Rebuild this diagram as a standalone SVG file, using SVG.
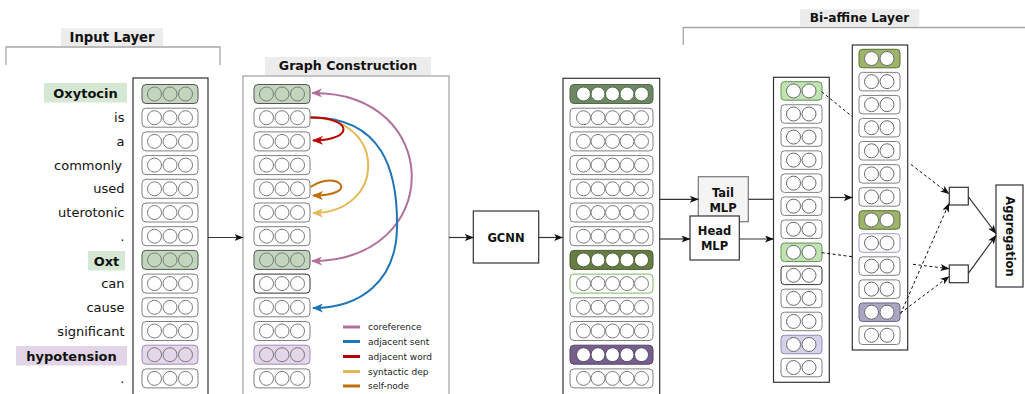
<svg xmlns="http://www.w3.org/2000/svg" xmlns:xlink="http://www.w3.org/1999/xlink" width="1025" height="394" viewBox="0 0 1025 394">
<style>
.tok{font-family:"DejaVu Sans",Verdana,sans-serif;font-size:13px;fill:#111;text-anchor:end}
.tokb{font-family:"DejaVu Sans",Verdana,sans-serif;font-size:13px;font-weight:bold;fill:#111;text-anchor:middle}
.title{font-family:"DejaVu Sans",Verdana,sans-serif;font-weight:bold;fill:#111;text-anchor:middle}
.lbl{font-family:"DejaVu Sans",Verdana,sans-serif;font-weight:bold;font-size:11.5px;fill:#111;text-anchor:middle}
.leg{font-family:"DejaVu Sans",Verdana,sans-serif;font-size:9px;fill:#222}
.tbg{fill:#ececec}
.brk{fill:none;stroke:#a6a6a6;stroke-width:1.3}
.col{fill:#fff;stroke:#333;stroke-width:1.2}
.box{fill:#fff;stroke:#333;stroke-width:1.2}
.con{fill:none;stroke:#333;stroke-width:1.2}
.dash{fill:none;stroke:#111;stroke-width:1;stroke-dasharray:3 2.5}
.arc{fill:none;stroke-width:2}
.lg{stroke-width:3}
</style>
<defs>
<marker id="ah" markerUnits="userSpaceOnUse" markerWidth="9" markerHeight="7" refX="8.5" refY="3.5" orient="auto"><path d="M0,0 L9,3.5 L0,7 L2.2,3.5 z" fill="#111"/></marker>
<marker id="ahp" markerUnits="userSpaceOnUse" markerWidth="11" markerHeight="9" refX="10" refY="4.5" orient="auto-start-reverse"><path d="M0,0 L11,4.5 L0,9 L3,4.5 z" fill="#b0709a"/></marker>
<marker id="ahb" markerUnits="userSpaceOnUse" markerWidth="11" markerHeight="9" refX="10" refY="4.5" orient="auto"><path d="M0,0 L11,4.5 L0,9 L3,4.5 z" fill="#1f74b4"/></marker>
<marker id="ahr" markerUnits="userSpaceOnUse" markerWidth="11" markerHeight="9" refX="10" refY="4.5" orient="auto"><path d="M0,0 L11,4.5 L0,9 L3,4.5 z" fill="#b80000"/></marker>
<marker id="ahy" markerUnits="userSpaceOnUse" markerWidth="11" markerHeight="9" refX="10" refY="4.5" orient="auto"><path d="M0,0 L11,4.5 L0,9 L3,4.5 z" fill="#e2b955"/></marker>
<marker id="aho" markerUnits="userSpaceOnUse" markerWidth="11" markerHeight="9" refX="10" refY="4.5" orient="auto"><path d="M0,0 L11,4.5 L0,9 L3,4.5 z" fill="#bd6f0a"/></marker>
<g id="c3"><rect width="56" height="19" rx="4"/><circle cx="12.5" cy="9.5" r="7" fill="none" stroke="#7a7a7a"/><circle cx="28" cy="9.5" r="7" fill="none" stroke="#7a7a7a"/><circle cx="43.5" cy="9.5" r="7" fill="none" stroke="#7a7a7a"/></g>
<g id="c5"><rect width="83" height="19" rx="4"/><circle cx="13.5" cy="9.5" r="7" fill="#fff" stroke="#7a7a7a"/><circle cx="28" cy="9.5" r="7" fill="#fff" stroke="#7a7a7a"/><circle cx="42.5" cy="9.5" r="7" fill="#fff" stroke="#7a7a7a"/><circle cx="57" cy="9.5" r="7" fill="#fff" stroke="#7a7a7a"/><circle cx="71.5" cy="9.5" r="7" fill="#fff" stroke="#7a7a7a"/></g>
<g id="c5d"><rect width="83" height="19" rx="4"/><circle cx="13.5" cy="9.5" r="7" fill="#fff"/><circle cx="28" cy="9.5" r="7" fill="#fff"/><circle cx="42.5" cy="9.5" r="7" fill="#fff"/><circle cx="57" cy="9.5" r="7" fill="#fff"/><circle cx="71.5" cy="9.5" r="7" fill="#fff"/></g>
<g id="c2"><rect width="41" height="18.5" rx="3.5"/><circle cx="12.5" cy="9.25" r="7" fill="#fff" stroke="#6a6a6a"/><circle cx="28" cy="9.25" r="7" fill="#fff" stroke="#6a6a6a"/></g>
</defs>
<rect width="1025" height="394" fill="#fff"/>

<g id="input-layer">
<rect class="tbg" x="61" y="28.3" width="102" height="18"/>
<text class="title" x="112" y="42" font-size="13.2">Input Layer</text>
<path class="brk" d="M6,65 V47 H220 V65"/>
<rect x="44" y="83" width="83" height="19.5" fill="#d5e8d4"/>
<rect x="88" y="251" width="37" height="19.5" fill="#d5e8d4"/>
<rect x="16" y="346" width="111" height="19.5" fill="#e1d5e7"/>
<text class="tokb" x="85.5" y="97.5">Oxytocin</text>
<text class="tok" x="124.5" y="122.2">is</text>
<text class="tok" x="124.5" y="145.9">a</text>
<text class="tok" x="122" y="169.6">commonly</text>
<text class="tok" x="124.5" y="193.3">used</text>
<text class="tok" x="124.5" y="217">uterotonic</text>
<text class="tok" x="124.5" y="240.7">.</text>
<text class="tokb" x="106.5" y="265.5">Oxt</text>
<text class="tok" x="124.5" y="288.1">can</text>
<text class="tok" x="124.5" y="311.8">cause</text>
<text class="tok" x="124.5" y="335.5">significant</text>
<text class="tokb" x="71.5" y="360.5">hypotension</text>
<text class="tok" x="124.5" y="382.9">.</text>
<rect class="col" x="133" y="78" width="75" height="330"/>
<use xlink:href="#c3" x="142" y="84.5" fill="#c2d6be" stroke="#555"/>
<use xlink:href="#c3" x="142" y="108.2" fill="#fff" stroke="#808080"/>
<use xlink:href="#c3" x="142" y="131.9" fill="#fff" stroke="#808080"/>
<use xlink:href="#c3" x="142" y="155.6" fill="#fff" stroke="#808080"/>
<use xlink:href="#c3" x="142" y="179.3" fill="#fff" stroke="#808080"/>
<use xlink:href="#c3" x="142" y="203" fill="#fff" stroke="#808080"/>
<use xlink:href="#c3" x="142" y="226.7" fill="#fff" stroke="#808080"/>
<use xlink:href="#c3" x="142" y="250.4" fill="#c2d6be" stroke="#4e5e4b"/>
<use xlink:href="#c3" x="142" y="274.1" fill="#fff" stroke="#808080"/>
<use xlink:href="#c3" x="142" y="297.8" fill="#fff" stroke="#808080"/>
<use xlink:href="#c3" x="142" y="321.5" fill="#fff" stroke="#808080"/>
<use xlink:href="#c3" x="142" y="345.2" fill="#e3d7ea" stroke="#a58ab5"/>
<use xlink:href="#c3" x="142" y="368.9" fill="#fff" stroke="#808080"/>
</g>

<g id="graph-construction">
<rect class="tbg" x="265" y="57" width="166" height="18"/>
<text class="title" x="348" y="69.8" font-size="12.6">Graph Construction</text>
<rect x="243" y="76" width="206" height="330" fill="#fff" stroke="#a6a6a6" stroke-width="1.3"/>
<use xlink:href="#c3" x="254" y="84.5" fill="#c2d6be" stroke="#555"/>
<use xlink:href="#c3" x="254" y="108.2" fill="#fff" stroke="#808080"/>
<use xlink:href="#c3" x="254" y="131.9" fill="#fff" stroke="#808080"/>
<use xlink:href="#c3" x="254" y="155.6" fill="#fff" stroke="#808080"/>
<use xlink:href="#c3" x="254" y="179.3" fill="#fff" stroke="#808080"/>
<use xlink:href="#c3" x="254" y="203" fill="#fff" stroke="#808080"/>
<use xlink:href="#c3" x="254" y="226.7" fill="#fff" stroke="#808080"/>
<use xlink:href="#c3" x="254" y="250.4" fill="#c2d6be" stroke="#555"/>
<use xlink:href="#c3" x="254" y="274.1" fill="#fff" stroke="#333"/>
<use xlink:href="#c3" x="254" y="297.8" fill="#fff" stroke="#808080"/>
<use xlink:href="#c3" x="254" y="321.5" fill="#fff" stroke="#808080"/>
<use xlink:href="#c3" x="254" y="345.2" fill="#e3d7ea" stroke="#a58ab5"/>
<use xlink:href="#c3" x="254" y="368.9" fill="#fff" stroke="#808080"/>
</g>

<g id="legend">
<line class="lg" x1="343" y1="327" x2="360" y2="327" stroke="#b0709a"/>
<line class="lg" x1="343" y1="341.5" x2="360" y2="341.5" stroke="#1f74b4"/>
<line class="lg" x1="343" y1="356.5" x2="360" y2="356.5" stroke="#b80000"/>
<line class="lg" x1="343" y1="371.5" x2="360" y2="371.5" stroke="#e2b955"/>
<line class="lg" x1="343" y1="386" x2="360" y2="386" stroke="#bd6f0a"/>
<text class="leg" x="368" y="330.3">coreference</text>
<text class="leg" x="368" y="344.8">adjacent sent</text>
<text class="leg" x="368" y="359.8">adjacent word</text>
<text class="leg" x="368" y="374.8">syntactic dep</text>
<text class="leg" x="368" y="389.3">self-node</text>
</g>

<g id="gcnn">
<rect class="box" x="473.3" y="211" width="65.4" height="52"/>
<text class="lbl" x="506" y="241.8" font-size="12">GCNN</text>
</g>

<g id="gcnn-output">
<rect class="col" x="563" y="78.3" width="96.7" height="330"/>
<use xlink:href="#c5d" x="570" y="84.5" fill="#6d8764" stroke="#4f6a45"/>
<use xlink:href="#c5" x="570" y="108.2" fill="#fff" stroke="#808080"/>
<use xlink:href="#c5" x="570" y="131.9" fill="#fff" stroke="#808080"/>
<use xlink:href="#c5" x="570" y="155.6" fill="#fff" stroke="#808080"/>
<use xlink:href="#c5" x="570" y="179.3" fill="#fff" stroke="#808080"/>
<use xlink:href="#c5" x="570" y="203" fill="#fff" stroke="#808080"/>
<use xlink:href="#c5" x="570" y="226.7" fill="#fff" stroke="#808080"/>
<use xlink:href="#c5d" x="570" y="250.4" fill="#677d45" stroke="#4d5e32"/>
<use xlink:href="#c5" x="570" y="274.1" fill="#fff" stroke="#82b366"/>
<use xlink:href="#c5" x="570" y="297.8" fill="#fff" stroke="#808080"/>
<use xlink:href="#c5" x="570" y="321.5" fill="#fff" stroke="#808080"/>
<use xlink:href="#c5d" x="570" y="345.2" fill="#76608a" stroke="#55436a"/>
<use xlink:href="#c5" x="570" y="368.9" fill="#fff" stroke="#808080"/>
</g>

<g id="tail-mlp">
<rect x="698.3" y="176.7" width="50" height="45" fill="#f4f4f4" stroke="#777" stroke-width="1.2"/>
<text class="lbl" x="723" y="197">Tail</text>
<text class="lbl" x="723" y="211.5">MLP</text>
</g>
<g id="head-mlp">
<rect class="box" x="690" y="216" width="49.3" height="44"/>
<text class="lbl" x="714.5" y="235.3">Head</text>
<text class="lbl" x="714.5" y="250">MLP</text>
</g>

<g id="biaffine-layer">
<rect class="tbg" x="800" y="9.3" width="119.3" height="16.7"/>
<text class="title" x="859.5" y="22.3" font-size="12.2">Bi-affine Layer</text>
<path class="brk" d="M683.3,45 V27.5 H1025"/>
</g>

<g id="head-tail-column">
<rect class="col" x="773.5" y="77.3" width="55.8" height="305"/>
<use xlink:href="#c2" x="781" y="81.7" fill="#bfe3b1" stroke="#6a8f5a"/>
<use xlink:href="#c2" x="781" y="104.75" fill="#fff" stroke="#808080"/>
<use xlink:href="#c2" x="781" y="127.8" fill="#fff" stroke="#808080"/>
<use xlink:href="#c2" x="781" y="150.85" fill="#fff" stroke="#808080"/>
<use xlink:href="#c2" x="781" y="173.9" fill="#fff" stroke="#808080"/>
<use xlink:href="#c2" x="781" y="196.95" fill="#fff" stroke="#808080"/>
<use xlink:href="#c2" x="781" y="220" fill="#fff" stroke="#808080"/>
<use xlink:href="#c2" x="781" y="243.05" fill="#bfe3b1" stroke="#6a8f5a"/>
<use xlink:href="#c2" x="781" y="266.1" fill="#fff" stroke="#333"/>
<use xlink:href="#c2" x="781" y="289.15" fill="#fff" stroke="#808080"/>
<use xlink:href="#c2" x="781" y="312.2" fill="#fff" stroke="#808080"/>
<use xlink:href="#c2" x="781" y="335.25" fill="#d4d2e8" stroke="#8f8ab8"/>
<use xlink:href="#c2" x="781" y="358.3" fill="#fff" stroke="#808080"/>
</g>

<g id="tail-column">
<rect class="col" x="852.3" y="45" width="55.4" height="305"/>
<use xlink:href="#c2" x="859" y="49.3" fill="#9db46a" stroke="#5b6f30"/>
<use xlink:href="#c2" x="859" y="72.36" fill="#fff" stroke="#808080"/>
<use xlink:href="#c2" x="859" y="95.42" fill="#fff" stroke="#808080"/>
<use xlink:href="#c2" x="859" y="118.48" fill="#fff" stroke="#808080"/>
<use xlink:href="#c2" x="859" y="141.54" fill="#fff" stroke="#808080"/>
<use xlink:href="#c2" x="859" y="164.6" fill="#fff" stroke="#808080"/>
<use xlink:href="#c2" x="859" y="187.66" fill="#fff" stroke="#808080"/>
<use xlink:href="#c2" x="859" y="210.72" fill="#9db46a" stroke="#5b6f30"/>
<use xlink:href="#c2" x="859" y="233.78" fill="#fff" stroke="#9b98c4"/>
<use xlink:href="#c2" x="859" y="256.84" fill="#fff" stroke="#808080"/>
<use xlink:href="#c2" x="859" y="279.9" fill="#fff" stroke="#808080"/>
<use xlink:href="#c2" x="859" y="302.96" fill="#a9a6c2" stroke="#6a6690"/>
<use xlink:href="#c2" x="859" y="326.02" fill="#fff" stroke="#808080"/>
</g>

<g id="score-1"><rect class="box" x="949.3" y="187.3" width="19" height="17.7"/></g>
<g id="score-2"><rect class="box" x="949.3" y="265" width="19" height="17.7"/></g>

<g id="aggregation">
<rect class="box" x="996" y="185" width="27" height="102"/>
<text class="lbl" x="0" y="0" font-size="11.3" transform="translate(1006,236.5) rotate(90)">Aggregation</text>
</g>

<g id="connectors">
<path class="arc" stroke="#b0709a" d="M312,93 C445,92 445,261 312,261" marker-start="url(#ahp)" marker-end="url(#ahp)"/>
<path class="arc" stroke="#1f74b4" d="M310.5,117.5 C382,117 398,170 397,228 C396,280 362,308 313,308" marker-end="url(#ahb)"/>
<path class="arc" stroke="#e2b955" d="M310.5,117.5 C388,118 386,213 313,213" marker-end="url(#ahy)"/>
<path class="arc" stroke="#b80000" d="M310.5,117.5 C352,117 356,140 313,140.5" marker-end="url(#ahr)"/>
<path class="arc" stroke="#bd6f0a" d="M310.5,187 C338,168 362,196 313,195.5" marker-end="url(#aho)"/>
<path class="con" d="M208,237.5 H243" marker-end="url(#ah)"/>
<path class="con" d="M449,237.5 H473.3" marker-end="url(#ah)"/>
<path class="con" d="M538.7,237.5 H562.7" marker-end="url(#ah)"/>
<path class="con" d="M659.7,199.3 H698.3" marker-end="url(#ah)"/>
<path class="con" d="M659.7,239 H690" marker-end="url(#ah)"/>
<path class="con" d="M739.3,239 H773.5" marker-end="url(#ah)"/>
<path class="con" d="M748.3,199.3 H773.5"/>
<path class="con" d="M829.3,197.5 H852.3" marker-end="url(#ah)"/>
<path class="dash" d="M821.7,91.7 L852.3,116.7"/>
<path class="dash" d="M821.7,252.7 L852.3,256.7"/>
<path class="dash" d="M911,164.5 L949,193.8" marker-end="url(#ah)"/>
<path class="dash" d="M913,264.3 L949,268.6" marker-end="url(#ah)"/>
<path class="dash" d="M900.5,314 L949,203.5" marker-end="url(#ah)"/>
<path class="dash" d="M900.5,313 L949,276.5" marker-end="url(#ah)"/>
<path class="con" d="M968.3,196.7 L996,233.5" marker-end="url(#ah)"/>
<path class="con" d="M968.3,273.3 L996,235.5" marker-end="url(#ah)"/>
</g>
</svg>
